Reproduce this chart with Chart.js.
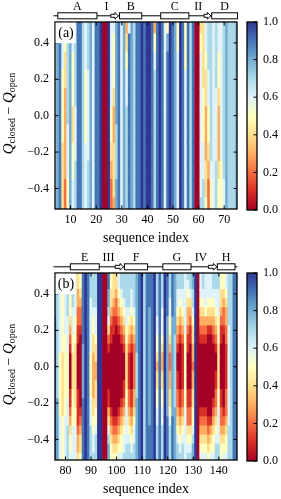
<!DOCTYPE html>
<html>
<head>
<meta charset="utf-8">
<script src="https://cdn.jsdelivr.net/npm/chart.js@4.4.1/dist/chart.umd.min.js"></script>
<style>
  html, body { margin: 0; padding: 0; background: #fff; }
  #page { position: relative; width: 281px; height: 499px; overflow: hidden; }
  canvas { position: absolute; }
</style>
</head>
<body>
<div id="page">
  <canvas id="mapA" width="240" height="250" style="left:0;top:0"></canvas>
  <canvas id="barA" width="41" height="250" style="left:240px;top:0"></canvas>
  <canvas id="mapB" width="240" height="248" style="left:0;top:251px"></canvas>
  <canvas id="barB" width="41" height="248" style="left:240px;top:251px"></canvas>
</div>
<script>
// map rows, top to bottom (Q_closed - Q_open)
const rowsA = [0.5, 0.4, 0.3, 0.2, 0.1, 0.0, -0.1, -0.2, -0.3, -0.4, -0.5];
const rowsB = [0.5, 0.45, 0.4, 0.35, 0.3, 0.25, 0.2, 0.15, 0.1, 0.05, 0.0,
  -0.05, -0.1, -0.15, -0.2, -0.25, -0.3, -0.35, -0.4, -0.45, -0.5];

// one string per residue, one hex digit per row (value = digit / 10)
const firstResA = 4;
const colsA = [
  "77777777777", "88888888888", "99999999999", "66655554444", "55443333322", "77777766655",
  "88888888888", "66555445566", "77777666777", "99999999999", "99999999999", "77777777777",
  "66655556666", "77766666777", "88888888888", "66666666666", "99999999999", "99999999999",
  "aaaaaaaaaaa", "00000000000", "00000000000", "aaaaaaaaaaa", "66666554322", "65554334443",
  "88888877788", "99999999999", "66666666666", "88888888888", "34566777777", "69999999999",
  "88888888888", "77777777777", "99999999999", "99999999999", "aaaaaaaaaaa", "99999999999",
  "aaaaaaaaaaa", "aaaaaaaaaaa", "99999999999", "35677777777", "99999999999", "aaaaaaaaaaa",
  "99999999999", "66666666666", "58999999999", "aaaaaaaaaaa", "99999999999", "88888888888",
  "55666666666", "aaaaaaaaaaa", "99999999999", "55566666666", "99999999999", "77777777777",
  "99999999999", "00000000000", "00000000000", "45666666667", "44445556677", "66544333445",
  "77766554322", "77777777655", "66666666666", "77776666777", "66554333455", "66666666555",
  "77777777766", "88888888888", "77777777777", "77777777777", "77777777777", "88888888888"
];

const firstResB = 76;
const colsB = [
  "888889999999999999999", "777777777777778888888", "666666666555555566666", "555555555444444455555",
  "666666655555555566666", "777776666555556667777", "665554321000011234556", "777766655444455556666",
  "666665554444444556666", "443322110000011112334", "554322100000000123445", "999999998888889999999",
  "aaaaaaaaaaaaaaaaaaaaa", "999999999999999999999", "777666666555556667777", "777765544333334455667",
  "777766654433444556777", "aaaaaaaaaaaaaaaaaaaaa", "aaaaaaaaaaaaaaaaaaaaa", "000000000000000000000",
  "000000000000000000000", "998876421000011346788", "554432110000000123455", "444321100000000012345",
  "443221000000000012345", "665432100000000123456", "776543210000001234556", "777654321000112345667",
  "777766554444455666677", "777765432111122345677", "776654321000011234567", "777765432222233456677",
  "888888888777778888888", "999999999999999999999", "aaaaaaaaaaaaaaaaaaaaa", "777777777777777777777",
  "999999999999999999999", "999988888888888889999", "999999999999999999999", "aaaaaaaaaaaaaaaaaaaaa",
  "777776655434455667777", "999999999999999999999", "777766654334455667777", "aaaaaaaaaaaaaaaaaaaaa",
  "999998888888888899999", "777665543223344567777", "999998888888888899999", "888888877777777888888",
  "776654321001122345677", "776543210000011234567", "776654321111122345677", "666666655555555666666",
  "765433211000011224567", "776432110000011224567", "887765443323344556788", "aaaaaaaaaaaaaaaaaaaaa",
  "000000000000000000000", "666543210000000123456", "776543210000000123456", "666653210000000123456",
  "666543100000000012345", "666543100000000013456", "776543210000001234556", "776654321001122345677",
  "776665554444455666677", "554432110000011223455", "554322100000000123456", "665433221111122234556",
  "777777666666666667777", "777777777777777777777", "999999999999999999999", "999999999999999999999"
];

const xTicksA = [10, 20, 30, 40, 50, 60, 70];
const xTicksB = [80, 90, 100, 110, 120, 130, 140];
const yTicks = [-0.4, -0.2, 0.0, 0.2, 0.4];
const cbTicks = [0.0, 0.2, 0.4, 0.6, 0.8, 1.0];

// secondary structure: helices [label, start, end], strands [label, labelPos, start, end]
const helicesA = [["A", 5, 20.3], ["B", 29.1, 37.8], ["C", 45.2, 56.2], ["D", 65.1, 75.2]];
const strandsA = [["I", 24, 25.7, 28.7], ["II", 59.9, 62.1, 64.8]];
const helicesB = [["E", 81.9, 93.2], ["F", 103.1, 112.1], ["G", 118.1, 129.1], ["H", 139.4, 146.3]];
const strandsB = [["III", 96.8, 99.4, 102.7], ["IV", 133, 135.9, 139.2]];

const q = (s) => document.querySelector(s);
const SERIF = '"Liberation Serif", "DejaVu Serif", serif';
const tickFont = { family: SERIF, size: 12 };

const RDYLBU = ["#a50026", "#d73027", "#f46d43", "#fdae61", "#fee090", "#ffffbf",
  "#e0f3f8", "#abd9e9", "#74add1", "#4575b4", "#313695"];
const rgbStops = RDYLBU.map((h) => [1, 3, 5].map((k) => parseInt(h.slice(k, k + 2), 16)));

function cmap(v) {
  const t = Math.max(0, Math.min(1, v)) * 10;
  const i = Math.min(9, Math.floor(t));
  const f = t - i;
  const a = rgbStops[i], b = rgbStops[i + 1];
  return `rgb(${a.map((c, k) => Math.round(c + (b[k] - c) * f)).join(",")})`;
}

function line(ctx, x1, y1, x2, y2) {
  ctx.beginPath(); ctx.moveTo(x1, y1); ctx.lineTo(x2, y2); ctx.stroke();
}

function drawYTitle(ctx, cx, cy) {
  const big = `italic 15px ${SERIF}`, sub = `10px ${SERIF}`, mid = `14px ${SERIF}`;
  const parts = [["Q", big, 0], ["closed", sub, 2.5], [" \u2212 ", mid, 0], ["Q", big, 0], ["open", sub, 2.5]];
  ctx.save();
  ctx.translate(cx, cy);
  ctx.rotate(-Math.PI / 2);
  let total = 0;
  parts.forEach((p) => { ctx.font = p[1]; p.w = ctx.measureText(p[0]).width; total += p.w; });
  let x = -total / 2;
  ctx.textAlign = "left"; ctx.textBaseline = "alphabetic"; ctx.fillStyle = "#000";
  parts.forEach((p) => { ctx.font = p[1]; ctx.fillText(p[0], x, p[2]); x += p.w; });
  ctx.restore();
}

const framePlugin = {
  id: "frame",
  afterDraw(chart, args, opts) {
    const { ctx, chartArea: a, scales: { x, y } } = chart;
    ctx.save();
    ctx.strokeStyle = "#000"; ctx.fillStyle = "#000"; ctx.lineWidth = 1;
    x.ticks.forEach((t) => {
      const px = x.getPixelForValue(t.value);
      line(ctx, px, a.bottom, px, a.bottom - 3.5);
      line(ctx, px, a.top, px, a.top + 3.5);
    });
    y.ticks.forEach((t) => {
      const py = y.getPixelForValue(t.value);
      line(ctx, a.left, py, a.left + 3.5, py);
      line(ctx, a.right, py, a.right - 3.5, py);
    });
    ctx.lineWidth = 1.3;
    ctx.strokeRect(a.left, a.top, a.right - a.left, a.bottom - a.top);

    // panel tag
    ctx.fillStyle = "#fff";
    ctx.fillRect(a.left + 0.7, a.top + 0.7, 20, 20.5);
    ctx.fillStyle = "#000";
    ctx.font = `14px ${SERIF}`; ctx.textAlign = "center"; ctx.textBaseline = "middle";
    ctx.fillText(opts.label, a.left + 11, a.top + 11);

    // secondary structure strip
    const yc = a.top - 6.2;
    ctx.lineWidth = 1;
    line(ctx, a.left - 1.5, yc, a.right + 0.5, yc);
    ctx.font = `12px ${SERIF}`;
    opts.helices.forEach(([name, s, e]) => {
      const x1 = x.getPixelForValue(s), x2 = x.getPixelForValue(e);
      ctx.fillStyle = "#fff"; ctx.fillRect(x1, yc - 3, x2 - x1, 6);
      ctx.strokeRect(x1, yc - 3, x2 - x1, 6);
      ctx.fillStyle = "#000"; ctx.fillText(name, (x1 + x2) / 2, a.top - 15.5);
    });
    opts.strands.forEach(([name, lp, s, e]) => {
      const x1 = x.getPixelForValue(s), x2 = x.getPixelForValue(e), xh = x2 - 3.5;
      ctx.beginPath();
      ctx.moveTo(x1, yc - 1.5); ctx.lineTo(xh, yc - 1.5); ctx.lineTo(xh, yc - 3.3);
      ctx.lineTo(x2, yc); ctx.lineTo(xh, yc + 3.3); ctx.lineTo(xh, yc + 1.5);
      ctx.lineTo(x1, yc + 1.5); ctx.closePath();
      ctx.fillStyle = "#fff"; ctx.fill(); ctx.stroke();
      ctx.fillStyle = "#000"; ctx.fillText(name, x.getPixelForValue(lp), a.top - 15.5);
    });

    // axis titles
    ctx.font = `14px ${SERIF}`;
    ctx.fillText("sequence index", (a.left + a.right) / 2, a.bottom + 29);
    drawYTitle(ctx, 12.5, (a.top + a.bottom) / 2 - 2);
    ctx.restore();
  }
};

const cbPlugin = {
  id: "cbframe",
  afterDraw(chart) {
    const { ctx, chartArea: a, scales: { y } } = chart;
    ctx.save();
    ctx.strokeStyle = "#000"; ctx.lineWidth = 1;
    y.ticks.forEach((t) => {
      const py = y.getPixelForValue(t.value);
      line(ctx, a.right, py, a.right - 3.5, py);
    });
    ctx.lineWidth = 1.3;
    ctx.strokeRect(a.left, a.top, a.right - a.left, a.bottom - a.top);
    ctx.restore();
  }
};

function heatmap(id, cols, rows, firstRes, xMin, xMax, xTicks, label, helices, strands) {
  const canvas = q(id);
  const half = (rows[0] - rows[1]) / 2;
  const cells = [];
  cols.forEach((col, i) => {
    [...col].forEach((ch, j) => {
      cells.push({ x: firstRes + i, y: [rows[j] - half, rows[j] + half], v: parseInt(ch, 16) / 10 });
    });
  });
  new Chart(canvas, {
    type: "bar",
    data: {
      datasets: [{
        data: cells,
        backgroundColor: (c) => cmap(c.raw.v),
        borderWidth: 0, barPercentage: 1, categoryPercentage: 1, inflateAmount: 0.35
      }]
    },
    options: {
      responsive: false, animation: false, events: [],
      layout: { padding: { top: 22, right: 3, left: 0, bottom: 0 } },
      plugins: { legend: { display: false }, tooltip: { enabled: false }, frame: { label, helices, strands } },
      scales: {
        x: {
          type: "linear", min: xMin, max: xMax, offset: false,
          grid: { display: false, drawTicks: false }, border: { display: false },
          afterBuildTicks: (s) => { s.ticks = xTicks.map((value) => ({ value })); },
          ticks: { color: "#000", font: tickFont, padding: 4, maxRotation: 0, autoSkip: false, callback: (v) => String(v) },
          afterFit: (s) => { s.height = canvas.height - 209; }
        },
        y: {
          type: "linear", min: -0.513, max: 0.515,
          grid: { display: false, drawTicks: false }, border: { display: false },
          afterBuildTicks: (s) => { s.ticks = yTicks.map((value) => ({ value })); },
          ticks: { color: "#000", font: tickFont, padding: 6, callback: (v) => v.toFixed(1).replace("-", "\u2212") },
          afterFit: (s) => { s.width = 55; }
        }
      }
    },
    plugins: [framePlugin]
  });
}

function colorbar(id) {
  const canvas = q(id);
  let grad = null;
  new Chart(canvas, {
    type: "bar",
    data: {
      labels: [""],
      datasets: [{
        data: [[0, 1]],
        backgroundColor: (c) => {
          const a = c.chart.chartArea;
          if (!a) return "#fff";
          if (!grad) {
            grad = c.chart.ctx.createLinearGradient(0, a.bottom, 0, a.top);
            RDYLBU.forEach((col, i) => grad.addColorStop(i / 10, col));
          }
          return grad;
        },
        borderWidth: 0, barPercentage: 1, categoryPercentage: 1, inflateAmount: 0
      }]
    },
    options: {
      responsive: false, animation: false, events: [],
      layout: { padding: { left: 7, top: 22, right: 0, bottom: canvas.height - 210 } },
      plugins: { legend: { display: false }, tooltip: { enabled: false } },
      scales: {
        x: { display: false },
        y: {
          position: "right", min: 0, max: 1,
          grid: { display: false, drawTicks: false }, border: { display: false },
          afterBuildTicks: (s) => { s.ticks = cbTicks.map((value) => ({ value })); },
          ticks: { color: "#000", font: tickFont, padding: 6, callback: (v) => v.toFixed(1) },
          afterFit: (s) => { s.width = canvas.width - 17; }
        }
      }
    },
    plugins: [cbPlugin]
  });
}

heatmap("#mapA", colsA, rowsA, firstResA, 3.9, 75, xTicksA, "(a)", helicesA, strandsA);
heatmap("#mapB", colsB, rowsB, firstResB, 75.9, 147.1, xTicksB, "(b)", helicesB, strandsB);
colorbar("#barA");
colorbar("#barB");
</script>
</body>
</html>
